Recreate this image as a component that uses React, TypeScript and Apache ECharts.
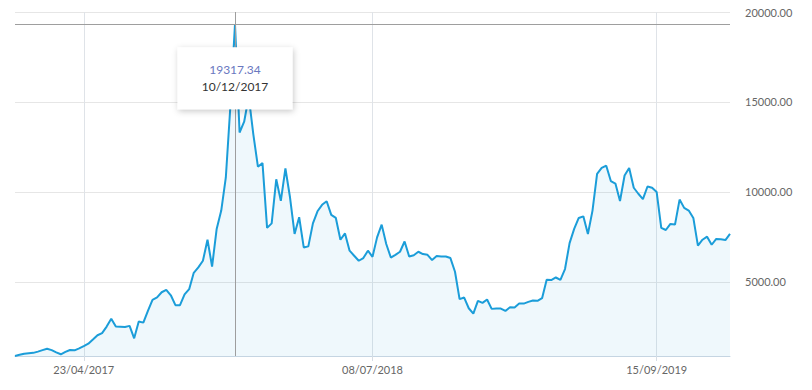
import React, { useEffect, useRef } from "react";
import * as echarts from "echarts";

// Weekly closing values, one per week starting 08/01/2017
const START_DATE = "2017-01-08";
const values2017a = [875, 940, 1000, 1030, 1050, 1120, 1200, 1280, 1200, 1080, 970, 1100, 1210, 1190, 1300, 1420, 1560, 1790, 2030, 2150, 2510, 2950, 2510, 2500, 2490, 2550, 1860, 2790, 2730, 3380];
const values2017b = [4000, 4130, 4420, 4550, 4250, 3700, 3700, 4300, 4590, 5500, 5800, 6170, 7340, 5850, 7940, 8960, 10800, 14800, 19317.34, 13300, 13900, 15300, 13200, 11400, 11600, 8000, 8250, 10700, 9500, 11300];
const values2018a = [9700, 7660, 8590, 6910, 6970, 8250, 8920, 9280, 9480, 8720, 8550, 7340, 7690, 6730, 6450, 6170, 6320, 6730, 6390, 7470, 8180, 7100, 6350, 6500, 6670, 7240, 6410, 6480, 6670, 6540, 6500];
const values2018b = [6210, 6430, 6410, 6410, 6320, 5560, 4035, 4125, 3530, 3230, 3940, 3830, 4015, 3495, 3510, 3510, 3380, 3590, 3570, 3790, 3790, 3885, 3960, 3940, 4090, 5110, 5095, 5240, 5110, 5710];
const values2019 = [7150, 7940, 8550, 8640, 7660, 8960, 11000, 11330, 11455, 10600, 10460, 9490, 10910, 11330, 10230, 9895, 9600, 10300, 10230, 9990, 8000, 7880, 8215, 8180, 9570, 9110, 8960, 8550, 7010, 7340, 7510, 7060, 7380, 7360, 7320, 7660];
const values = [...values2017a, ...values2017b, ...values2018a, ...values2018b, ...values2019];

const tickLabels = ["23/04/2017", "08/07/2018", "15/09/2019"];

function pad(n: number) {
  return n < 10 ? "0" + n : String(n);
}
function buildDates(start: string, count: number): string[] {
  const base = new Date(start + "T00:00:00Z").getTime();
  const out: string[] = [];
  for (let i = 0; i < count; i++) {
    const d = new Date(base + i * 7 * 86400000);
    out.push(pad(d.getUTCDate()) + "/" + pad(d.getUTCMonth() + 1) + "/" + d.getUTCFullYear());
  }
  return out;
}
const dates = buildDates(START_DATE, values.length);

const FONT = "Lato";

export default function App() {
  const ref = useRef<HTMLDivElement>(null);
  useEffect(() => {
    if (!ref.current) return;
    const chart = echarts.init(ref.current, undefined, { renderer: "svg" });
    const peakVal = Math.max(...values);
    const peakIdx = values.indexOf(peakVal);
    const showTick = (_i: number, v: string) => tickLabels.indexOf(v) >= 0;
    chart.setOption({
      animation: false,
      grid: { left: 15, right: 82, top: 12, bottom: 34, containLabel: false },
      xAxis: {
        type: "category",
        data: dates,
        boundaryGap: false,
        axisLine: { show: true, lineStyle: { color: "#c5d5e2", width: 1 } },
        axisTick: { show: true, interval: showTick, length: 5, lineStyle: { color: "#d6dde4" } },
        splitLine: { show: true, interval: showTick, lineStyle: { color: "#dfe3e8", width: 1 } },
        axisLabel: {
          interval: showTick,
          color: "#666",
          fontSize: 11,
          fontFamily: FONT,
          margin: 8,
        },
      },
      yAxis: {
        type: "value",
        position: "right",
        min: "dataMin",
        max: 20000,
        splitNumber: 4,
        axisLine: { show: false },
        axisTick: { show: false },
        splitLine: { show: true, lineStyle: { color: "#e6e6e6", width: 1 } },
        axisLabel: {
          showMinLabel: false,
          color: "#666",
          fontSize: 11,
          fontFamily: FONT,
          margin: 15,
          formatter: (v: number) => v.toFixed(2),
        },
      },
      series: [
        {
          type: "line",
          data: values,
          symbol: "none",
          lineStyle: { color: "#1b9dd9", width: 2 },
          itemStyle: { color: "#1b9dd9" },
          areaStyle: { color: "rgba(27,157,217,0.1)" },
          markLine: {
            silent: true,
            symbol: ["none", "none"],
            label: { show: false },
            lineStyle: { color: "#9e9e9e", type: "solid", width: 1 },
            data: [{ xAxis: peakIdx }, { yAxis: peakVal }],
          },
          markPoint: {
            silent: true,
            symbol: "circle",
            symbolSize: 0,
            data: [{ coord: [peakIdx, peakVal] }],
            label: {
              show: true,
              position: "bottom",
              distance: 23,
              backgroundColor: "#ffffff",
              padding: [14, 15, 14, 15],
              width: 85,
              shadowBlur: 6,
              shadowColor: "rgba(0,0,0,0.22)",
              shadowOffsetX: 1,
              shadowOffsetY: 2,
              formatter: () => "{v|" + peakVal.toFixed(2) + "}\n{d|" + dates[peakIdx] + "}",
              rich: {
                v: { color: "#6a78bf", fontSize: 12, lineHeight: 17, fontFamily: FONT, align: "center" },
                d: { color: "#333", fontSize: 12, lineHeight: 17, fontFamily: FONT, align: "center" },
              },
            },
          },
        },
      ],
    });
    return () => chart.dispose();
  }, []);
  return <div ref={ref} style={{ width: 812, height: 390, margin: -8 }} />;
}
